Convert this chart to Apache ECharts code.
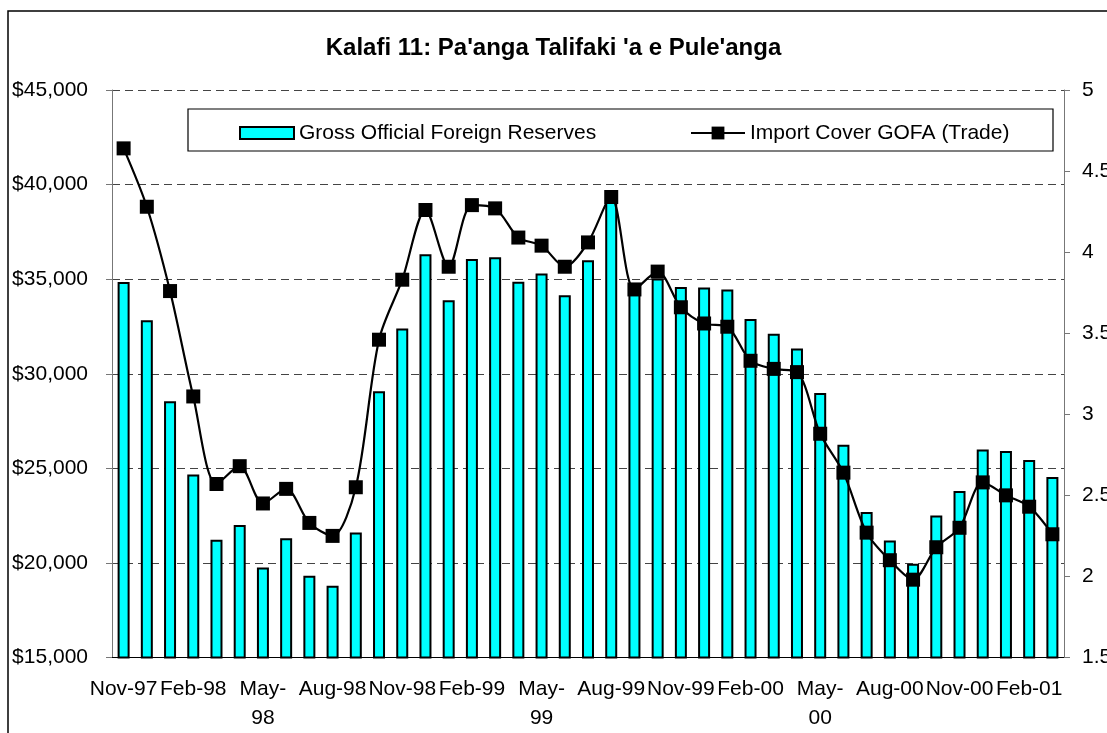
<!DOCTYPE html>
<html>
<head>
<meta charset="utf-8">
<script src="https://cdn.jsdelivr.net/npm/echarts@6/dist/echarts.min.js"></script>
<style>
  html, body { margin: 0; padding: 0; background: #fff; }
  #chart { width: 1107px; height: 733px; }
</style>
</head>
<body>
<div id="chart"></div>
<script>
// monthly data, Nov-97 .. Mar-01
const months = [
  'Nov-97', 'Dec-97', 'Jan-98', 'Feb-98', 'Mar-98', 'Apr-98', 'May-98', 'Jun-98', 'Jul-98', 'Aug-98',
  'Sep-98', 'Oct-98', 'Nov-98', 'Dec-98', 'Jan-99', 'Feb-99', 'Mar-99', 'Apr-99', 'May-99', 'Jun-99',
  'Jul-99', 'Aug-99', 'Sep-99', 'Oct-99', 'Nov-99', 'Dec-99', 'Jan-00', 'Feb-00', 'Mar-00', 'Apr-00',
  'May-00', 'Jun-00', 'Jul-00', 'Aug-00', 'Sep-00', 'Oct-00', 'Nov-00', 'Dec-00', 'Jan-01', 'Feb-01',
  'Mar-01'
];
const reserves = [
  34850, 32830, 28550, 24680, 21230, 22000, 19760, 21310, 19320, 18790,
  21610, 29070, 32390, 36320, 33890, 36060, 36160, 34860, 35300, 34150,
  36000, 39200, 34400, 35040, 34590, 34560, 34450, 32900, 32110, 31330,
  28980, 26250, 22690, 21190, 19960, 22510, 23800, 25990, 25920, 25440,
  24540
];
const importCover = [
  4.64, 4.28, 3.76, 3.11, 2.57, 2.68, 2.45, 2.54, 2.33, 2.25,
  2.55, 3.46, 3.83, 4.26, 3.91, 4.29, 4.27, 4.09, 4.04, 3.91,
  4.06, 4.34, 3.77, 3.88, 3.66, 3.56, 3.54, 3.33, 3.28, 3.26,
  2.88, 2.64, 2.27, 2.10, 1.98, 2.18, 2.30, 2.58, 2.50, 2.43,
  2.26
];
const seriesNames = ['Gross Official Foreign Reserves', 'Import Cover GOFA (Trade)'];

const FONT = 'Arial, "Liberation Sans", sans-serif';

const myChart = echarts.init(document.getElementById('chart'));
const option = {
  animation: false,
  backgroundColor: '#fff',
  textStyle: { fontFamily: FONT, color: '#000' },
  title: {
    text: "Kalafi 11: Pa'anga Talifaki 'a e Pule'anga",
    left: 'center',
    top: 31,
    textStyle: { fontSize: 24, fontWeight: 'bold', color: '#000', fontFamily: FONT }
  },
  graphic: [
    {
      // outer chart border (only left/top edges fall inside the picture)
      type: 'rect',
      z: -1,
      shape: { x: 8, y: 11, width: 1200, height: 800 },
      style: { fill: 'none', stroke: '#000', lineWidth: 1.5 }
    },
    {
      // legend box
      type: 'rect',
      z: 1,
      shape: { x: 188, y: 109, width: 865, height: 42 },
      style: { fill: '#fff', stroke: '#000', lineWidth: 1.2 }
    }
  ],
  legend: [
    {
      data: [{ name: seriesNames[0], icon: 'rect' }],
      left: 234,
      top: 117,
      itemWidth: 54,
      itemHeight: 12,
      z: 5,
      textStyle: { fontSize: 21, lineHeight: 22, color: '#000', fontFamily: FONT }
    },
    {
      data: [seriesNames[1]],
      left: 685,
      top: 117,
      itemWidth: 54,
      itemHeight: 16,
      z: 5,
      textStyle: { fontSize: 21, lineHeight: 22, color: '#000', fontFamily: FONT }
    }
  ],
  grid: {
    left: 112,
    right: 43,
    top: 90,
    bottom: 75.5,
    outerBoundsMode: 'none'
  },
  xAxis: {
    type: 'category',
    data: months,
    boundaryGap: true,
    axisLine: { lineStyle: { color: '#000', width: 1 } },
    axisTick: { interval: 0, length: 6, lineStyle: { color: '#555' } },
    axisLabel: {
      interval: 2,
      margin: 17,
      fontSize: 21,
      lineHeight: 29,
      color: '#000',
      formatter: function (v) {
        return v.indexOf('May') === 0 ? v.replace('-', '-\n') : v;
      }
    },
    splitLine: { show: false }
  },
  yAxis: [
    {
      type: 'value',
      min: 15000,
      max: 45000,
      interval: 5000,
      axisLine: { show: true, lineStyle: { color: '#777' } },
      axisTick: { show: true, length: 6, lineStyle: { color: '#777' } },
      axisLabel: {
        margin: 24,
        fontSize: 21,
        color: '#000',
        formatter: function (v) { return '$' + v.toLocaleString('en-US'); }
      },
      splitLine: { lineStyle: { color: '#444', type: [8, 5], width: 1 } }
    },
    {
      type: 'value',
      min: 1.5,
      max: 5,
      interval: 0.5,
      axisLine: { show: true, lineStyle: { color: '#777' } },
      axisTick: { show: true, length: 6, lineStyle: { color: '#777' } },
      axisLabel: { margin: 18, fontSize: 21, color: '#000' },
      splitLine: { show: false }
    }
  ],
  series: [
    {
      name: seriesNames[0],
      type: 'bar',
      yAxisIndex: 0,
      barWidth: 12,
      itemStyle: { color: '#00ffff', borderColor: '#000', borderWidth: 2 },
      data: reserves
    },
    {
      name: seriesNames[1],
      type: 'line',
      yAxisIndex: 1,
      smooth: 0.3,
      symbol: 'rect',
      symbolSize: 14,
      lineStyle: { color: '#000', width: 2.2 },
      itemStyle: { color: '#000' },
      data: importCover
    }
  ]
};
myChart.setOption(option);
</script>
</body>
</html>
